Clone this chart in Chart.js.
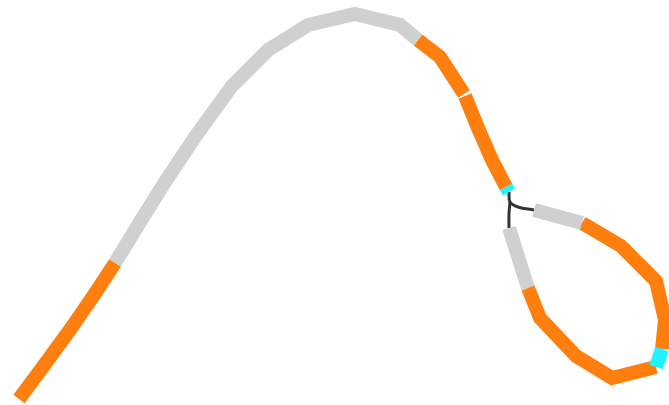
<!DOCTYPE html>
<html>
<head>
<meta charset="utf-8">
<script src="https://cdn.jsdelivr.net/npm/chart.js@4/dist/chart.umd.min.js"></script>
<style>
  html, body { margin: 0; padding: 0; background: #fff; }
  #wrap { width: 669px; height: 405px; }
</style>
</head>
<body>
<div id="wrap"><canvas id="grafica"></canvas></div>
<script>
// Tramos del trazo (x, y en unidades del gráfico)
const colaX = [19, 45, 72, 96, 115];
const colaY = [399, 364, 327, 292, 263];

const crestaX = [115, 140, 165, 195, 232, 268, 308, 355, 400, 418];
const crestaY = [263, 222, 182, 137, 86, 50, 25, 14, 25, 40];

const bajadaAX = [418, 440, 464];
const bajadaAY = [40, 57, 94];
const bajadaBX = [465, 478, 492, 506];
const bajadaBY = [96, 128, 160, 187];

const nudoX = [506, 509];
const nudoY = [187, 192];

const ramaDerX = [509, 510, 518, 534];
const ramaDerY = [192, 202, 207, 210];
const ramaIzqX = [510, 509, 509];
const ramaIzqY = [202, 214, 228];

const grisArribaX = [534, 582];
const grisArribaY = [210, 223];

const lazoX = [582, 621, 656, 665, 662];
const lazoY = [223, 246, 281, 320, 349];

const nudo2X = [662, 656];
const nudo2Y = [349, 367];

const lazoBajoX = [656, 612, 576, 540, 528];
const lazoBajoY = [367, 378, 356, 318, 288];

const grisIzqX = [528, 509];
const grisIzqY = [288, 228];

const naranja = '#ff7f0e';
const gris = '#d0d0d0';
const cian = '#22f2ff';
const oscuro = '#333333';

function puntos(xs, ys) {
  return xs.map((x, i) => ({ x: x, y: ys[i] }));
}

function tramo(xs, ys, color, ancho, orden, tension) {
  return {
    data: puntos(xs, ys),
    showLine: true,
    borderColor: color,
    backgroundColor: color,
    borderWidth: ancho,
    borderCapStyle: 'butt',
    borderJoinStyle: 'miter',
    pointRadius: 0,
    tension: tension || 0,
    order: orden
  };
}

const contexto = document.getElementById('grafica').getContext('2d');
new Chart(contexto, {
  type: 'scatter',
  data: {
    datasets: [
      tramo(colaX, colaY, naranja, 14, 5),
      tramo(crestaX, crestaY, gris, 14, 5),
      tramo(bajadaAX, bajadaAY, naranja, 14, 5),
      tramo(bajadaBX, bajadaBY, naranja, 14, 5),
      tramo(nudoX, nudoY, cian, 14, 4),
      tramo(ramaDerX, ramaDerY, oscuro, 3, 6, 0.4),
      tramo(ramaIzqX, ramaIzqY, oscuro, 3, 6, 0.4),
      tramo(grisArribaX, grisArribaY, gris, 14, 5),
      tramo(lazoX, lazoY, naranja, 14, 5),
      tramo(nudo2X, nudo2Y, cian, 14, 4),
      tramo(lazoBajoX, lazoBajoY, naranja, 14, 5),
      tramo(grisIzqX, grisIzqY, gris, 14, 5)
    ]
  },
  options: {
    responsive: true,
    maintainAspectRatio: false,
    animation: false,
    layout: { padding: 0 },
    plugins: {
      legend: { display: false },
      tooltip: { enabled: false }
    },
    scales: {
      x: { type: 'linear', min: 0, max: 669, display: false },
      y: { type: 'linear', min: 0, max: 405, reverse: true, display: false }
    }
  }
});
</script>
</body>
</html>
